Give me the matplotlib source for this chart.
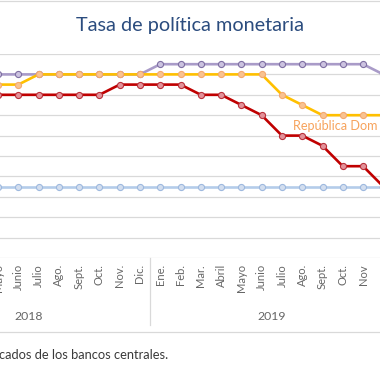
import matplotlib
matplotlib.use("Agg")
import matplotlib.pyplot as plt
import matplotlib.transforms as mtransforms
import numpy as np

# ---- data ----
months = ["Mayo", "Junio", "Julio", "Ago.", "Sept.", "Oct.", "Nov.", "Dic.",
          "Ene.", "Feb.", "Mar.", "Abril", "Mayo", "Junio", "Julio", "Ago.",
          "Sept.", "Oct.", "Nov", "Dic."]
years = ["2018", "2019"]
year_centers = [1.5, 13.5]
honduras = [5.5, 5.5, 5.5, 5.5, 5.5, 5.5, 5.5, 5.5,
            5.75, 5.75, 5.75, 5.75, 5.75, 5.75, 5.75, 5.75, 5.75, 5.75, 5.75, 5.5]
rep_dom = [5.25, 5.25, 5.5, 5.5, 5.5, 5.5, 5.5, 5.5,
           5.5, 5.5, 5.5, 5.5, 5.5, 5.5, 5.0, 4.75, 4.5, 4.5, 4.5, 4.5]
costa_rica = [5.0, 5.0, 5.0, 5.0, 5.0, 5.0, 5.25, 5.25,
              5.25, 5.25, 5.0, 5.0, 4.75, 4.5, 4.0, 4.0, 3.75, 3.25, 3.25, 2.75]
guatemala = [2.75] * 20
title = "Tasa de política monetaria"
footnote = "cados de los bancos centrales."
label_rd = "República Dom"

W = H = 380
fig = plt.figure(figsize=(3.8, 3.8), dpi=100)
fig.patch.set_facecolor("white")

def fy(p):  # pixel y from top -> figure fraction
    return 1 - p / H

ax_top, ax_bot = 54, 258
ax = fig.add_axes([0, fy(ax_bot), 1, (ax_bot - ax_top) / H])
step = 20.28
x0 = -1.98
ax.set_xlim((0 - x0) / step, (W - x0) / step)
ax.set_ylim(1, 6)
for s in ax.spines.values():
    s.set_visible(False)
ax.set_xticks([])
ax.set_yticks([])
for v in np.arange(1.0, 6.01, 0.5):
    ax.axhline(v, color="#D9D9D9", lw=0.9, zorder=0)

x = np.arange(len(months))
ms = 4.4
lw = 1.9
ax.plot(x, guatemala, color="#B4CCEA", lw=lw, marker="o", ms=ms,
        mfc="#D3DEEF", mec="#9DB8DE", mew=0.8, zorder=2)
ax.plot(x, costa_rica, color="#C00000", lw=lw, marker="o", ms=ms,
        mfc="#E3929A", mec="#B8303A", mew=0.8, zorder=3)
ax.plot(x, honduras, color="#A99BC8", lw=lw, marker="o", ms=ms,
        mfc="#CCC3E0", mec="#7E6FA2", mew=0.8, zorder=4)
ax.plot(x, rep_dom, color="#FFC000", lw=lw, marker="o", ms=ms,
        mfc="#F9C391", mec="#F4A870", mew=0.8, zorder=5)

fig.text(293 / W, fy(126), label_rd, color="#F7A35C", fontsize=9.1,
         family="Lato", ha="left", va="center")

# category axis
trans = mtransforms.blended_transform_factory(ax.transData, fig.transFigure)
for i, m in enumerate(months):
    px = x0 + step * i
    if px > W - 6:
        continue
    ax.text(i, fy(264), m, transform=trans, rotation=90, ha="center", va="top",
            fontsize=8.0, family="Lato", color="#666666", clip_on=False)
for c, yv in zip(year_centers, years):
    ax.text(c, fy(316), yv, transform=trans, ha="center", va="center",
            fontsize=8.8, family="Lato", color="#666666", clip_on=False)
fig.add_artist(plt.Line2D([150 / W, 150 / W], [fy(258), fy(325)],
                          color="#D9D9D9", lw=0.9))
fig.add_artist(plt.Line2D([0, 1], [fy(332), fy(332)], color="#D9D9D9", lw=0.9))
fig.add_artist(plt.Line2D([0, 1], [fy(1), fy(1)], color="#D9D9D9", lw=0.9))

fig.text(190 / W, fy(25), title, ha="center", va="center", fontsize=14.3,
         family="Lato", color="#2B4C7E")
fig.text(-1 / W, fy(355), footnote, ha="left", va="center", fontsize=9.3,
         family="Lato", color="#3A3A3A")

fig.savefig("out.png", dpi=100, facecolor="white")
